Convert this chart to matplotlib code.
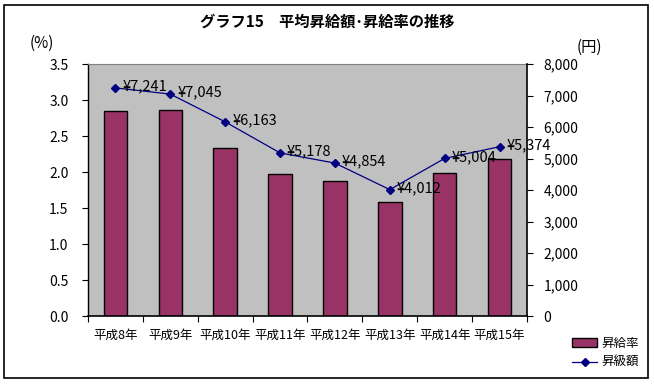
import matplotlib
matplotlib.use("Agg")
import matplotlib.pyplot as plt
from matplotlib.patches import Rectangle
from matplotlib.lines import Line2D
from matplotlib.ticker import FuncFormatter, MultipleLocator
import numpy as np

plt.rcParams['font.family'] = ['Noto Sans CJK JP', 'DejaVu Sans']

categories = ["平成8年", "平成9年", "平成10年", "平成11年", "平成12年", "平成13年", "平成14年", "平成15年"]
rate = [2.85, 2.86, 2.33, 1.97, 1.87, 1.58, 1.98, 2.18]
amount = [7241, 7045, 6163, 5178, 4854, 4012, 5004, 5374]
title = "グラフ15　平均昇給額･昇給率の推移"

W, H = 654, 384
fig = plt.figure(figsize=(W / 100, H / 100), dpi=100)
fig.patch.set_facecolor("white")

def fx(px):
    return px / W

def fy(py):
    return 1 - py / H

L, R, T, B = 88, 527, 64, 316
ax = fig.add_axes([fx(L), fy(B), fx(R) - fx(L), fy(T) - fy(B)])
ax.set_facecolor("#C0C0C0")
x = np.arange(len(categories))
ax.bar(x, rate, width=0.43, color="#993366", edgecolor="black", linewidth=1, zorder=2)
ax.set_xlim(-0.5, len(categories) - 0.5)
ax.set_ylim(0, 3.5)
ax.yaxis.set_major_locator(MultipleLocator(0.5))
ax.yaxis.set_major_formatter(FuncFormatter(lambda v, p: f"{v:.1f}"))
ax.set_xticks(x)
ax.set_xticklabels(categories, fontsize=9)
ax.set_xticks(np.arange(-0.5, len(categories), 1.0), minor=True)
ax.tick_params(axis="x", which="major", length=0, pad=9)
ax.tick_params(axis="x", which="minor", length=4, direction="out", width=0.8)
ax.tick_params(axis="y", labelsize=10, length=4, width=0.8, pad=10)
ax.spines["top"].set_color("#808080")
ax.spines["right"].set_visible(False)
ax.spines["left"].set_linewidth(1)
ax.spines["bottom"].set_linewidth(1.2)

ax2 = ax.twinx()
ax2.plot(x, amount, color="#000080", linewidth=0.9, marker="D", markersize=4.5, zorder=3)
ax2.set_ylim(0, 8000)
ax2.yaxis.set_major_locator(MultipleLocator(1000))
ax2.yaxis.set_major_formatter(FuncFormatter(lambda v, p: f"{int(v):,}"))
ax2.tick_params(axis="y", labelsize=10, length=4, width=0.8, pad=8)
ax2.spines["right"].set_linewidth(1.2)
ax2.spines["top"].set_visible(False)
ax2.spines["left"].set_visible(False)
ax2.spines["bottom"].set_visible(False)
for xi, v in zip(x, amount):
    ax2.annotate(f"¥{v:,}", (xi, v), xytext=(5, 1), textcoords="offset points",
                 fontsize=10.5, va="center", ha="left", zorder=4)

fig.text(0.5, fy(22), title, ha="center", va="center", fontsize=11, fontweight="bold")
fig.text(fx(30), fy(43), "(%)", ha="left", va="center", fontsize=11)
fig.text(fx(577), fy(47), "(円)", ha="left", va="center", fontsize=11)

handles = [Rectangle((0, 0), 1, 1, facecolor="#993366", edgecolor="black", linewidth=1),
           Line2D([0], [0], color="#000080", marker="D", markersize=4.5, linewidth=0.9)]
fig.legend(handles, ["昇給率", "昇級額"], loc="center left",
           bbox_to_anchor=(fx(566), fy(353)), frameon=False, fontsize=9,
           handlelength=2.0, handletextpad=0.3, labelspacing=0.5, borderpad=0)

fig.add_artist(Rectangle((fx(4), fy(378)), fx(648) - fx(4), fy(5) - fy(378),
                         transform=fig.transFigure, fill=False, edgecolor="black", linewidth=1.2))

fig.savefig("out.png", dpi=100)
